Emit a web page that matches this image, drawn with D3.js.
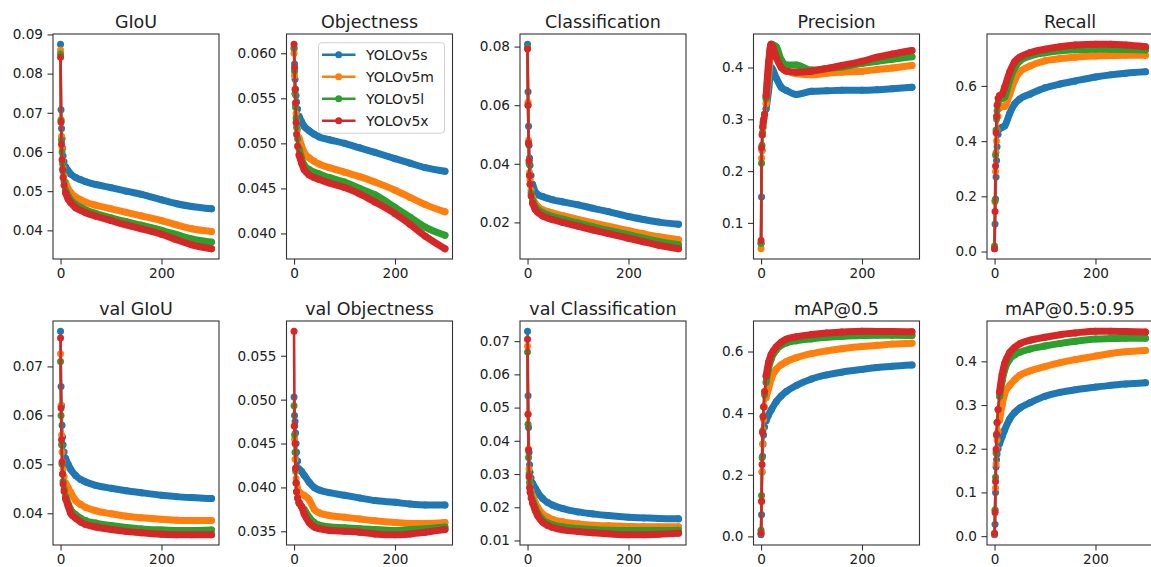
<!DOCTYPE html>
<html><head><meta charset="utf-8">
<script src="https://cdn.jsdelivr.net/npm/d3@7"></script>
<style>html,body{margin:0;padding:0;background:#fff;} text{font-family:"DejaVu Sans",sans-serif;}</style>
</head><body><svg id="c" width="1151" height="567"></svg>
<script>
const epochs = [0,1,2,3,4,5,7,10,15,20,30,40,50,70,100,130,160,200,230,260,299];
const models = ["YOLOv5s","YOLOv5m","YOLOv5l","YOLOv5x"];
const colors = ["#1f77b4","#ff7f0e","#2ca02c","#d62728"];
const titles = ["GIoU","Objectness","Classification","Precision","Recall","val GIoU","val Objectness","val Classification","mAP@0.5","mAP@0.5:0.95"];
const xTicks = [0,200];

const giou = [
 [0.0875,0.0708,0.0660,0.0635,0.0610,0.0590,0.0575,0.0562,0.0552,0.0544,0.0535,0.0529,0.0524,0.0517,0.0509,0.0500,0.0492,0.0478,0.0468,0.0461,0.0455],
 [0.0860,0.0683,0.0640,0.0610,0.0580,0.0560,0.0540,0.0522,0.0506,0.0497,0.0485,0.0478,0.0472,0.0464,0.0455,0.0446,0.0437,0.0425,0.0414,0.0404,0.0397],
 [0.0850,0.0680,0.0630,0.0600,0.0570,0.0550,0.0525,0.0503,0.0488,0.0478,0.0466,0.0459,0.0452,0.0443,0.0432,0.0422,0.0413,0.0400,0.0389,0.0378,0.0370],
 [0.0842,0.0676,0.0620,0.0580,0.0555,0.0535,0.0515,0.0496,0.0480,0.0471,0.0458,0.0451,0.0445,0.0436,0.0425,0.0414,0.0404,0.0390,0.0376,0.0363,0.0353]];
const objectness = [
 [0.0605,0.0588,0.0571,0.0560,0.0553,0.0546,0.0538,0.0530,0.0524,0.0519,0.0514,0.0510,0.0507,0.0504,0.0500,0.0495,0.0490,0.0483,0.0478,0.0473,0.0469],
 [0.0600,0.0575,0.0555,0.0543,0.0533,0.0525,0.0515,0.0506,0.0497,0.0490,0.0484,0.0480,0.0477,0.0473,0.0468,0.0463,0.0457,0.0448,0.0440,0.0432,0.0424],
 [0.0606,0.0580,0.0555,0.0540,0.0528,0.0518,0.0505,0.0494,0.0483,0.0476,0.0471,0.0468,0.0466,0.0462,0.0457,0.0450,0.0443,0.0429,0.0418,0.0407,0.0398],
 [0.0610,0.0584,0.0560,0.0545,0.0523,0.0510,0.0497,0.0487,0.0478,0.0471,0.0465,0.0462,0.0460,0.0456,0.0451,0.0444,0.0435,0.0422,0.0410,0.0397,0.0383]];
const classification = [
 [0.0808,0.0646,0.0528,0.0463,0.0420,0.0395,0.0360,0.0330,0.0305,0.0295,0.0288,0.0282,0.0277,0.0270,0.0260,0.0248,0.0237,0.0220,0.0210,0.0201,0.0194],
 [0.0795,0.0610,0.0480,0.0410,0.0370,0.0345,0.0310,0.0285,0.0265,0.0255,0.0243,0.0237,0.0232,0.0223,0.0210,0.0198,0.0187,0.0172,0.0161,0.0151,0.0141],
 [0.0795,0.0600,0.0470,0.0400,0.0360,0.0330,0.0300,0.0275,0.0255,0.0245,0.0233,0.0226,0.0220,0.0211,0.0198,0.0185,0.0173,0.0158,0.0146,0.0135,0.0124],
 [0.0792,0.0600,0.0470,0.0410,0.0360,0.0330,0.0290,0.0265,0.0245,0.0235,0.0222,0.0215,0.0209,0.0200,0.0187,0.0174,0.0162,0.0146,0.0134,0.0122,0.0110]];
const precision = [
 [0.060,0.150,0.240,0.270,0.285,0.295,0.305,0.320,0.355,0.400,0.380,0.362,0.356,0.348,0.354,0.355,0.356,0.356,0.357,0.359,0.362],
 [0.050,0.225,0.240,0.270,0.285,0.295,0.305,0.330,0.385,0.430,0.435,0.410,0.395,0.388,0.386,0.389,0.391,0.393,0.396,0.399,0.404],
 [0.060,0.215,0.250,0.275,0.290,0.297,0.310,0.340,0.400,0.445,0.440,0.415,0.405,0.405,0.395,0.398,0.401,0.408,0.412,0.416,0.421],
 [0.066,0.245,0.270,0.285,0.295,0.300,0.310,0.345,0.410,0.445,0.420,0.400,0.393,0.391,0.393,0.398,0.404,0.412,0.420,0.426,0.433]];
const recall = [
 [0.010,0.100,0.190,0.270,0.330,0.380,0.425,0.445,0.450,0.455,0.500,0.535,0.553,0.570,0.593,0.607,0.618,0.632,0.640,0.646,0.651],
 [0.015,0.180,0.290,0.360,0.400,0.440,0.490,0.520,0.525,0.525,0.570,0.620,0.650,0.672,0.691,0.699,0.704,0.708,0.710,0.711,0.711],
 [0.020,0.185,0.350,0.440,0.480,0.510,0.540,0.550,0.555,0.560,0.620,0.665,0.690,0.708,0.720,0.727,0.731,0.733,0.733,0.732,0.730],
 [0.010,0.145,0.310,0.430,0.490,0.530,0.555,0.565,0.570,0.595,0.650,0.688,0.704,0.720,0.733,0.742,0.748,0.751,0.751,0.748,0.742]];
const valGiou = [
 [0.0772,0.0659,0.0620,0.0580,0.0556,0.0540,0.0525,0.0512,0.0500,0.0490,0.0477,0.0469,0.0464,0.0457,0.0451,0.0446,0.0442,0.0437,0.0434,0.0432,0.0430],
 [0.0726,0.0620,0.0560,0.0525,0.0505,0.0490,0.0475,0.0462,0.0452,0.0443,0.0426,0.0418,0.0412,0.0405,0.0399,0.0394,0.0391,0.0388,0.0386,0.0385,0.0385],
 [0.0710,0.0600,0.0540,0.0500,0.0480,0.0465,0.0450,0.0435,0.0420,0.0408,0.0397,0.0390,0.0385,0.0380,0.0375,0.0371,0.0368,0.0366,0.0365,0.0365,0.0366],
 [0.0758,0.0615,0.0550,0.0505,0.0480,0.0460,0.0445,0.0430,0.0415,0.0400,0.0390,0.0382,0.0377,0.0372,0.0367,0.0363,0.0360,0.0357,0.0356,0.0356,0.0356]];
const valObjectness = [
 [0.0503,0.0482,0.0475,0.0462,0.0450,0.0440,0.0430,0.0421,0.0418,0.0414,0.0406,0.0400,0.0397,0.0394,0.0391,0.0388,0.0385,0.0383,0.0381,0.0380,0.0380],
 [0.0470,0.0455,0.0432,0.0418,0.0410,0.0405,0.0400,0.0395,0.0392,0.0391,0.0386,0.0375,0.0371,0.0368,0.0366,0.0364,0.0362,0.0360,0.0359,0.0359,0.0360],
 [0.0493,0.0460,0.0440,0.0420,0.0405,0.0395,0.0388,0.0382,0.0378,0.0375,0.0366,0.0360,0.0357,0.0355,0.0354,0.0353,0.0352,0.0351,0.0352,0.0353,0.0355],
 [0.0578,0.0470,0.0450,0.0422,0.0405,0.0395,0.0388,0.0383,0.0378,0.0370,0.0360,0.0355,0.0353,0.0351,0.0350,0.0349,0.0347,0.0346,0.0347,0.0349,0.0352]];
const valClassification = [
 [0.0730,0.0536,0.0440,0.0365,0.0328,0.0305,0.0288,0.0272,0.0258,0.0245,0.0226,0.0214,0.0206,0.0196,0.0186,0.0180,0.0175,0.0170,0.0168,0.0166,0.0165],
 [0.0685,0.0480,0.0375,0.0315,0.0290,0.0270,0.0250,0.0235,0.0215,0.0200,0.0180,0.0170,0.0163,0.0156,0.0150,0.0146,0.0144,0.0142,0.0141,0.0141,0.0141],
 [0.0667,0.0450,0.0350,0.0300,0.0275,0.0255,0.0238,0.0222,0.0200,0.0183,0.0163,0.0153,0.0147,0.0141,0.0136,0.0133,0.0131,0.0130,0.0130,0.0130,0.0131],
 [0.0706,0.0480,0.0372,0.0292,0.0260,0.0245,0.0228,0.0213,0.0192,0.0175,0.0155,0.0145,0.0139,0.0132,0.0127,0.0123,0.0120,0.0117,0.0117,0.0119,0.0122]];
const map50 = [
 [0.005,0.070,0.209,0.260,0.300,0.329,0.355,0.375,0.395,0.410,0.437,0.456,0.470,0.490,0.511,0.524,0.533,0.542,0.548,0.552,0.556],
 [0.010,0.112,0.210,0.300,0.345,0.380,0.420,0.450,0.480,0.510,0.542,0.557,0.567,0.580,0.593,0.602,0.609,0.616,0.620,0.624,0.627],
 [0.020,0.133,0.255,0.340,0.390,0.420,0.460,0.500,0.545,0.575,0.605,0.620,0.628,0.635,0.641,0.646,0.649,0.652,0.653,0.653,0.652],
 [0.010,0.115,0.233,0.337,0.388,0.421,0.470,0.520,0.565,0.590,0.615,0.630,0.640,0.648,0.655,0.660,0.663,0.666,0.665,0.665,0.664]];
const map5095 = [
 [0.003,0.027,0.100,0.158,0.175,0.188,0.200,0.212,0.228,0.243,0.268,0.283,0.293,0.305,0.320,0.329,0.335,0.341,0.345,0.348,0.351],
 [0.005,0.060,0.110,0.165,0.200,0.220,0.240,0.265,0.300,0.325,0.345,0.358,0.368,0.378,0.388,0.397,0.404,0.412,0.418,0.422,0.425],
 [0.006,0.060,0.135,0.190,0.230,0.260,0.290,0.320,0.355,0.380,0.405,0.415,0.421,0.428,0.435,0.441,0.446,0.451,0.452,0.453,0.453],
 [0.006,0.054,0.125,0.198,0.233,0.260,0.290,0.330,0.370,0.395,0.420,0.432,0.440,0.448,0.455,0.461,0.465,0.469,0.469,0.468,0.467]];

const yTickLabels = [
 ["0.04","0.05","0.06","0.07","0.08","0.09"],
 ["0.040","0.045","0.050","0.055","0.060"],
 ["0.02","0.04","0.06","0.08"],
 ["0.1","0.2","0.3","0.4"],
 ["0.0","0.2","0.4","0.6"],
 ["0.04","0.05","0.06","0.07"],
 ["0.035","0.040","0.045","0.050","0.055"],
 ["0.01","0.02","0.03","0.04","0.05","0.06","0.07"],
 ["0.0","0.2","0.4","0.6"],
 ["0.0","0.1","0.2","0.3","0.4"]];

const panels = [giou, objectness, classification, precision, recall, valGiou, valObjectness, valClassification, map50, map5095];

const svg = d3.select("#c");
svg.append("rect").attr("width",1151).attr("height",567).attr("fill","#fff");

const W = 166;
const bandFrom = epochs.indexOf(10);
const axisColor = "#333";
const textColor = "#222";
const tickFont = "13.6px";

panels.forEach((series, i) => {
  const row = i < 5 ? 0 : 1, col = i % 5;
  const left = 53 + col * 233.5;
  const top = row === 0 ? 34 : 321;
  const H = row === 0 ? 225 : 224;
  const g = svg.append("g");

  const xMax = d3.max(epochs);
  const x = d3.scaleLinear().domain([-0.05 * xMax, xMax * 1.05]).range([left, left + W]);
  const all = series.flat();
  const lo = d3.min(all), hi = d3.max(all), pad = (hi - lo) * 0.05;
  const y = d3.scaleLinear().domain([lo - pad, hi + pad]).range([top + H, top]);

  const line = d3.line().x((d, k) => x(epochs[k])).y(d => y(d));
  const bandLine = d3.line().x(d => x(d[0])).y(d => y(d[1])).curve(d3.curveMonotoneX);

  series.forEach((vals, s) => {
    const sg = g.append("g");
    sg.append("path").attr("d", line(vals)).attr("fill","none")
      .attr("stroke", colors[s]).attr("stroke-width", 2.6).attr("stroke-linejoin","round");
    const bandPts = vals.map((v, k) => [epochs[k], v]).slice(bandFrom);
    sg.append("path").attr("d", bandLine(bandPts)).attr("fill","none")
      .attr("stroke", colors[s]).attr("stroke-width", 7).attr("stroke-linecap","round").attr("stroke-linejoin","round");
    sg.selectAll("circle").data(vals).join("circle")
      .attr("cx", (d, k) => x(epochs[k])).attr("cy", d => y(d)).attr("r", 3.5)
      .attr("fill", colors[s]);
  });

  // frame
  g.append("rect").attr("x", left).attr("y", top).attr("width", W).attr("height", H)
    .attr("fill","none").attr("stroke", axisColor).attr("stroke-width", 1.1);

  // y axis
  const yAxis = d3.axisLeft(y).tickValues(yTickLabels[i].map(Number))
    .tickFormat((d, k) => yTickLabels[i][k]).tickSize(5.5).tickPadding(4.5);
  const ya = g.append("g").attr("transform", `translate(${left},0)`).call(yAxis);
  ya.select(".domain").remove();
  ya.selectAll("line").attr("stroke", axisColor).attr("stroke-width", 1.1);
  ya.selectAll("text").attr("fill", textColor).style("font-size", tickFont).style("font-family","DejaVu Sans");

  // x axis
  const xAxis = d3.axisBottom(x).tickValues(xTicks).tickFormat(d3.format("d")).tickSize(5.5).tickPadding(4);
  const xa = g.append("g").attr("transform", `translate(0,${top + H})`).call(xAxis);
  xa.select(".domain").remove();
  xa.selectAll("line").attr("stroke", axisColor).attr("stroke-width", 1.1);
  xa.selectAll("text").attr("fill", textColor).style("font-size", tickFont).style("font-family","DejaVu Sans");

  // title
  g.append("text").attr("x", left + W / 2).attr("y", top - 6.5).attr("text-anchor","middle")
    .attr("fill", textColor).style("font-size","17.5px").text(titles[i]);

  // legend
  if (i === 1) {
    const lw = 126, lh = 90.5;
    const lx = left + W - 8 - lw, ly = top + 8.7;
    const lg = g.append("g");
    lg.append("rect").attr("x", lx).attr("y", ly).attr("width", lw).attr("height", lh).attr("rx", 3)
      .attr("fill","#fff").attr("fill-opacity",0.85).attr("stroke","#d0d0d0").attr("stroke-width",1);
    models.forEach((m, s) => {
      const yy = ly + 12 + s * 22;
      lg.append("line").attr("x1", lx + 3.5).attr("x2", lx + 37).attr("y1", yy).attr("y2", yy)
        .attr("stroke", colors[s]).attr("stroke-width", 2.6);
      lg.append("circle").attr("cx", lx + 20.2).attr("cy", yy).attr("r", 3.5).attr("fill", colors[s]);
      lg.append("text").attr("x", lx + 47.5).attr("y", yy).attr("dy","0.36em")
        .attr("fill", textColor).style("font-size","14px").text(m);
    });
  }
});
</script></body></html>
